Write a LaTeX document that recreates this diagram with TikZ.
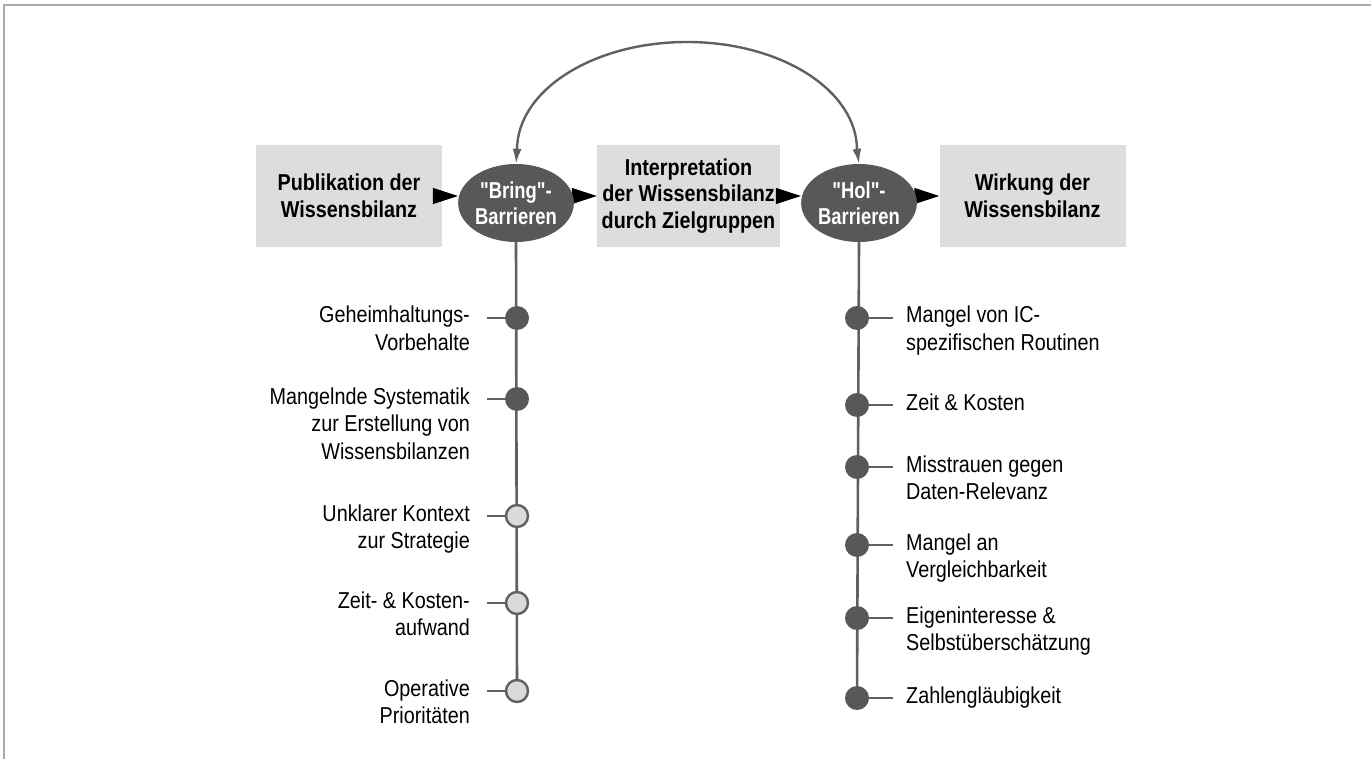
\documentclass[tikz,border=0pt]{standalone}
\usepackage{fontspec}
\setmainfont{Liberation Sans}[FakeStretch=0.86, Ligatures=TeXOff]
\newfontfamily\ellfont{Liberation Sans}[FakeStretch=0.8, Ligatures=TeXOff]
\usetikzlibrary{arrows.meta,shapes.geometric}
\definecolor{linegray}{HTML}{606060}
\definecolor{boxgray}{HTML}{DCDDDD}
\definecolor{ellgray}{HTML}{585858}
\definecolor{dotlight}{HTML}{D9DADA}
\definecolor{framegray}{HTML}{ABABAB}
\pgfdeclarelayer{back}
\pgfdeclarelayer{mid}
\pgfsetlayers{back,mid,main}
\begin{document}
\begin{tikzpicture}[x=1pt,y=-1pt,
  box/.style={fill=boxgray, minimum width=186pt, minimum height=102pt, inner sep=0pt,
    align=center, font=\fontsize{23}{26.5}\selectfont\bfseries},
  barrier/.style={ellipse, fill=ellgray, minimum width=115pt, minimum height=78pt, inner sep=0pt,
    align=center, text=white, font=\ellfont\fontsize{23}{26}\selectfont\bfseries},
  flowarrow/.style={draw=black, line width=1pt, -{Triangle[length=25pt,width=16pt]}},
  spine/.style={draw=linegray, line width=2.6pt},
  loop/.style={draw=linegray, line width=2.4pt, {Latex[length=15pt,width=9pt]}-{Latex[length=15pt,width=9pt]}},
  dotdark/.style={circle, fill=ellgray, minimum size=24pt, inner sep=0pt},
  dotlite/.style={circle, fill=dotlight, draw=linegray, line width=2.4pt, minimum size=22pt, inner sep=0pt},
  lbl/.style={inner sep=0pt, font=\fontsize{23}{27.5}\selectfont},
  frame/.style={draw=framegray, line width=2pt}
]
\useasboundingbox (0,0) rectangle (1371,759);
\draw[frame] (3.5,759) -- (3.5,5.5) -- (1371,5.5);

% boxes
\begin{pgfonlayer}{back}
\node[box] (pub) at (349,196) {Publikation der\\Wissensbilanz};
\node[box, minimum width=183pt] (interp) at (688.5,196) {Interpretation\\der Wissensbilanz\\durch Zielgruppen};
\node[box] (wirk) at (1032.5,196) {Wirkung der\\Wissensbilanz};
\end{pgfonlayer}

% barriers
\node[barrier] (bring) at (516,203) {"Bring"-\\Barrieren};
\node[barrier] (hol) at (859,203) {"Hol"-\\Barrieren};

% dots left
\node[dotdark] (l1) at (517,318) {};
\node[dotdark] (l2) at (517,399) {};
\node[dotlite] (l3) at (517,516) {};
\node[dotlite] (l4) at (517,603) {};
\node[dotlite] (l5) at (517,691) {};
% dots right
\node[dotdark] (r1) at (857,318) {};
\node[dotdark] (r2) at (857,405) {};
\node[dotdark] (r3) at (857,467) {};
\node[dotdark] (r4) at (857,545) {};
\node[dotdark] (r5) at (857,618) {};
\node[dotdark] (r6) at (857,698) {};

\begin{pgfonlayer}{mid}
\draw[flowarrow] (pub.east) -- (pub.east -| bring.west);
\draw[flowarrow] (bring.east |- interp.west) -- (interp.west);
\draw[flowarrow] (interp.east) -- (interp.east -| hol.west);
\draw[flowarrow] (hol.east |- wirk.west) -- (wirk.west);
\draw[spine] (bring.south) -- (l5.center);
\draw[spine] (hol.south) -- (r6.center);
\foreach \n in {l1,l2,l3,l4,l5}{
  \coordinate (\n t) at ([xshift=-30pt]\n.center);
  \draw[spine] (\n.center) -- (\n t);
}
\foreach \n in {r1,r2,r3,r4,r5,r6}{
  \coordinate (\n t) at ([xshift=36pt]\n.center);
  \draw[spine] (\n.center) -- (\n t);
}
\end{pgfonlayer}

% loop arrow
\draw[loop] (bring.north) -- (517,150) arc[start angle=180, end angle=360, x radius=170, y radius=108] -- (hol.north);

% left labels
\node[lbl, anchor=base east] (tl1) at (470,323) {\begin{tabular}[t]{@{}r@{}}Geheimhaltungs-\\Vorbehalte\end{tabular}};
\node[lbl, anchor=base east] (tl2) at (470,404) {\begin{tabular}[t]{@{}r@{}}Mangelnde Systematik\\zur Erstellung von\\Wissensbilanzen\end{tabular}};
\node[lbl, anchor=base east] (tl3) at (470,521) {\begin{tabular}[t]{@{}r@{}}Unklarer Kontext\\zur Strategie\end{tabular}};
\node[lbl, anchor=base east] (tl4) at (470,608) {\begin{tabular}[t]{@{}r@{}}Zeit- \& Kosten-\\aufwand\end{tabular}};
\node[lbl, anchor=base east] (tl5) at (470,696) {\begin{tabular}[t]{@{}r@{}}Operative\\Prioritäten\end{tabular}};

% right labels
\node[lbl, anchor=base west] (tr1) at (906,323) {\begin{tabular}[t]{@{}l@{}}Mangel von IC-\\spezifischen Routinen\end{tabular}};
\node[lbl, anchor=base west] (tr2) at (906,410) {Zeit \& Kosten};
\node[lbl, anchor=base west] (tr3) at (906,472) {\begin{tabular}[t]{@{}l@{}}Misstrauen gegen\\Daten-Relevanz\end{tabular}};
\node[lbl, anchor=base west] (tr4) at (906,550) {\begin{tabular}[t]{@{}l@{}}Mangel an\\Vergleichbarkeit\end{tabular}};
\node[lbl, anchor=base west] (tr5) at (906,623) {\begin{tabular}[t]{@{}l@{}}Eigeninteresse \&\\Selbstüberschätzung\end{tabular}};
\node[lbl, anchor=base west] (tr6) at (906,703) {Zahlengläubigkeit};
\end{tikzpicture}
\end{document}
